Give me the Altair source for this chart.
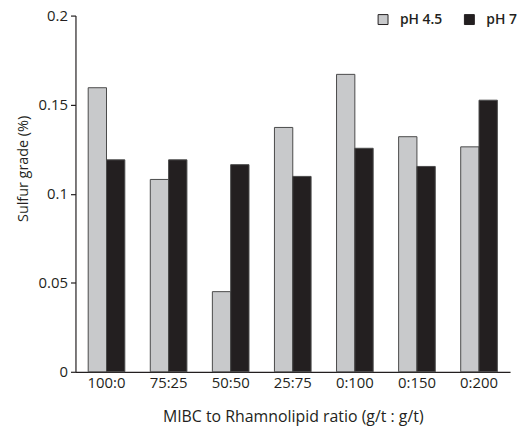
import altair as alt
import pandas as pd

categories = ["100:0", "75:25", "50:50", "25:75", "0:100", "0:150", "0:200"]
series = ["pH 4.5", "pH 7"]
ph45 = [0.1595, 0.108, 0.045, 0.1372, 0.167, 0.132, 0.1263]
ph7 = [0.119, 0.119, 0.1163, 0.1097, 0.1255, 0.1153, 0.1525]
y_ticks = [0, 0.05, 0.1, 0.15, 0.2]
colors = ["#c8c9cb", "#231f20"]

rows = []
for i, c in enumerate(categories):
    rows.append({"ratio": c, "series": series[0], "value": ph45[i]})
    rows.append({"ratio": c, "series": series[1], "value": ph7[i]})
df = pd.DataFrame(rows)

FONT = "Open Sans"

chart = (
    alt.Chart(df)
    .mark_bar(stroke="#4a4a4a", strokeWidth=1)
    .encode(
        x=alt.X(
            "ratio:N",
            sort=categories,
            scale=alt.Scale(paddingInner=0.41, paddingOuter=0.205),
            axis=alt.Axis(
                title="MIBC to Rhamnolipid ratio (g/t : g/t)",
                labelAngle=0,
                ticks=False,
                labelPadding=4,
                titleFontSize=16,
                titleBaseline="middle",
                titleY=45,
            ),
        ),
        xOffset=alt.XOffset("series:N", sort=series),
        y=alt.Y(
            "value:Q",
            scale=alt.Scale(domain=[0, 0.2], nice=False),
            axis=alt.Axis(
                title="Sulfur grade (%)",
                values=y_ticks,
                format="~g",
                tickSize=5,
                labelPadding=3,
                titleFontSize=14.5,
                titleBaseline="middle",
                titleX=-52,
                titleY=154,
                grid=False,
            ),
        ),
        color=alt.Color(
            "series:N",
            sort=series,
            scale=alt.Scale(domain=series, range=colors),
            legend=alt.Legend(
                title=None,
                orient="none",
                legendX=303,
                legendY=-3,
                direction="horizontal",
                symbolType="square",
                symbolSize=100,
                symbolStrokeColor="#231f20",
                symbolStrokeWidth=1,
                labelOffset=10,
                columnPadding=20,
                padding=0,
                labelFontSize=14,
                labelFontWeight=600,
            ),
        ),
    )
    .properties(
        width=438,
        height=359,
        autosize=alt.AutoSizeParams(type="none"),
        padding={"left": 68, "top": 6, "right": 8, "bottom": 56},
    )
    .configure_view(stroke=None)
    .configure_axis(
        domainColor="#231f20",
        domainWidth=1.2,
        tickColor="#231f20",
        tickWidth=1.2,
        labelFont=FONT,
        labelFontSize=15,
        labelColor="#231f20",
        titleFont=FONT,
        titleFontWeight="normal",
        titleColor="#231f20",
    )
    .configure_legend(
        labelFont=FONT,
        labelColor="#231f20",
    )
)

chart.save("out.html", embed_options={"renderer": "svg", "actions": False})
